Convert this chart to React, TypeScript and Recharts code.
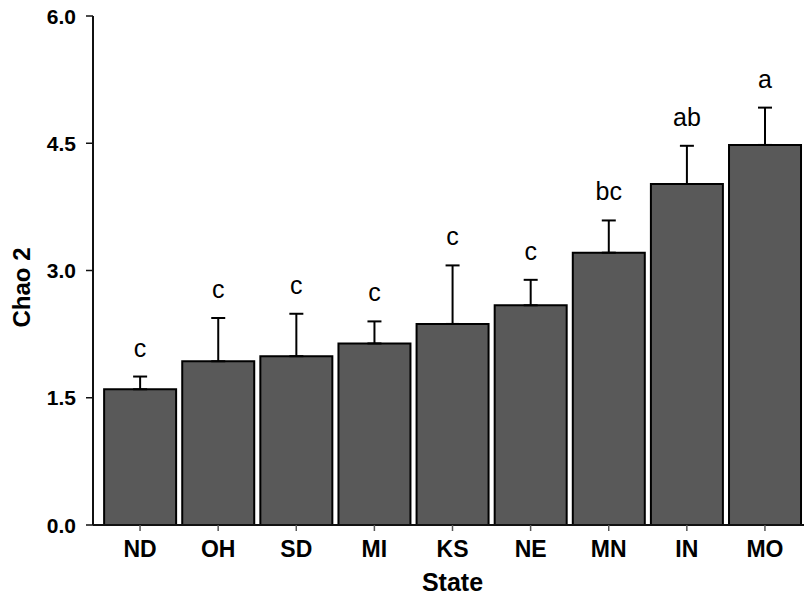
import * as React from "react";
import { BarChart, Bar, XAxis, YAxis, ErrorBar, LabelList } from "recharts";

const states = ["ND", "OH", "SD", "MI", "KS", "NE", "MN", "IN", "MO"];
const chao2 = [1.6, 1.93, 1.99, 2.14, 2.37, 2.59, 3.21, 4.02, 4.48];
const upperErr = [0.15, 0.51, 0.5, 0.26, 0.69, 0.3, 0.38, 0.45, 0.44];
const groups = ["c", "c", "c", "c", "c", "c", "bc", "ab", "a"];
const yTicks = [0, 1.5, 3, 4.5, 6];

const data = states.map((s, i) => ({
  state: s,
  v: chao2[i],
  err: [0, upperErr[i]],
  grp: groups[i],
}));

const FONT = "'Liberation Sans', Arial, sans-serif";

function GroupLetter(props: any) {
  const { x, y, width, height, index } = props;
  const i = index as number;
  const pxPerUnit = height / chao2[i];
  const top = y - upperErr[i] * pxPerUnit;
  return (
    <text
      x={x + width / 2}
      y={top - 20}
      textAnchor="middle"
      fontFamily={FONT}
      fontSize={25}
      fill="#000"
    >
      {groups[i]}
    </text>
  );
}

function XTick(props: any) {
  const { x, y, payload } = props;
  return (
    <text
      x={x}
      y={y + 26}
      textAnchor="middle"
      fontFamily={FONT}
      fontSize={23}
      fontWeight={700}
      fill="#000"
    >
      {payload.value}
    </text>
  );
}

function YTick(props: any) {
  const { x, y, payload } = props;
  return (
    <text
      x={x}
      y={y + 7.5}
      textAnchor="end"
      fontFamily={FONT}
      fontSize={21}
      fontWeight={700}
      fill="#000"
    >
      {Number(payload.value).toFixed(1)}
    </text>
  );
}

export default function App() {
  return (
    <div style={{ position: "absolute", left: 0, top: 0, background: "#fff" }}>
      <BarChart
        width={804}
        height={598}
        data={data}
        margin={{ top: 16, right: 0, bottom: 0, left: 0 }}
        barCategoryGap="4%"
      >
        <XAxis
          dataKey="state"
          height={73}
          padding={{ left: 8, right: 0 }}
          axisLine={{ stroke: "#111", strokeWidth: 2 }}
          tickLine={{ stroke: "#555", strokeWidth: 1.5 }}
          tickSize={6}
          tickMargin={0}
          tick={<XTick />}
          label={(p: any) => {
            const vb = p.viewBox;
            return (
              <text
                x={vb.x + vb.width / 2 + 4}
                y={vb.y + 66}
                textAnchor="middle"
                fontFamily={FONT}
                fontSize={25}
                fontWeight={700}
                fill="#000"
              >
                State
              </text>
            );
          }}
        />
        <YAxis
          width={93}
          domain={[0, 6]}
          ticks={yTicks}
          interval={0}
          axisLine={{ stroke: "#111", strokeWidth: 2 }}
          tickLine={{ stroke: "#111", strokeWidth: 1.5 }}
          tickSize={7}
          tickMargin={10}
          tick={<YTick />}
          label={(p: any) => {
            const vb = p.viewBox;
            const bx = vb.x + 30;
            const cy = vb.y + vb.height / 2 + 17;
            return (
              <text
                x={bx}
                y={cy}
                transform={`rotate(-90 ${bx} ${cy})`}
                textAnchor="middle"
                fontFamily={FONT}
                fontSize={24}
                fontWeight={700}
                fill="#000"
              >
                Chao 2
              </text>
            );
          }}
        />
        <Bar
          dataKey="v"
          fill="#595959"
          stroke="#000"
          strokeWidth={2}
          isAnimationActive={false}
        >
          <ErrorBar
            dataKey="err"
            direction="y"
            width={7}
            stroke="#000"
            strokeWidth={2}
            isAnimationActive={false}
          />
          <LabelList dataKey="grp" content={GroupLetter} />
        </Bar>
      </BarChart>
    </div>
  );
}
